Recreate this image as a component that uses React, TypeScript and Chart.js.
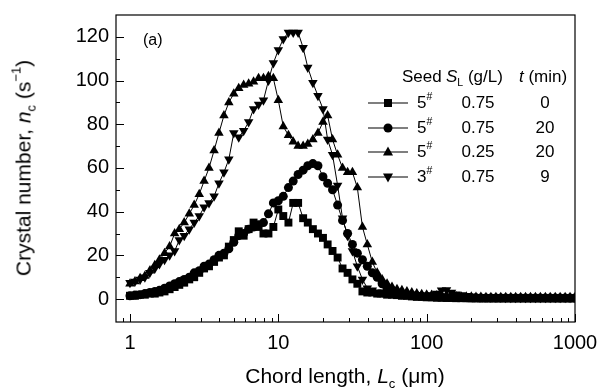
import React, { useEffect, useRef } from "react";
import { Chart, registerables } from "chart.js";

Chart.register(...registerables);

// Chord length channels (µm)
const chordLength = [
  1.00, 1.08, 1.17, 1.26, 1.36, 1.47, 1.58, 1.71, 1.85, 2.00,
  2.15, 2.32, 2.51, 2.71, 2.93, 3.16, 3.41, 3.69, 3.98, 4.30,
  4.64, 5.01, 5.41, 5.84, 6.31, 6.81, 7.36, 7.94, 8.58, 9.26,
  10.0, 10.8, 11.7, 12.6, 13.6, 14.7, 15.8, 17.1, 18.5, 20.0,
  21.5, 23.2, 25.1, 27.1, 29.3, 31.6, 34.1, 36.9, 39.8, 43.0,
  46.4, 50.1, 54.1, 58.4, 63.1, 68.1, 73.6, 79.4, 85.8, 92.6,
  100, 108, 117, 126, 136, 147, 158, 171, 185, 200,
  215, 232, 251, 271, 293, 316, 341, 369, 398, 430,
  464, 501, 541, 584, 631, 681, 736, 794, 858, 926,
  1000,
];

// 5#, 0.75 g/L, 0 min (squares)
const seriesSquare = [
  1.5, 1.5, 2, 2, 2.5, 2.5, 3, 3.5, 4.5, 5.5,
  6.5, 7.5, 9, 10, 12, 14, 15, 17, 19, 20,
  24, 27, 31, 29, 32, 35, 33, 30, 30, 33,
  41, 38, 35, 44, 44, 37, 35, 32, 30, 28,
  25, 22, 19, 14, 12, 9, 7, 3.5, 3, 3,
  2.5, 2.5,
  2, 2, 1.8, 1.5, 1.5, 1.2, 1, 1, 0.8, 0.8,
  0.6, 0.6, 0.5, 0.5, 0.4, 0.4, 0.4, 0.3, 0.3, 0.3,
  0.3, 0.3, 0.3, 0.3, 0.3, 0.3, 0.3, 0.3, 0.3, 0.3,
  0.3, 0.3, 0.3, 0.3, 0.3, 0.3, 0.3, 0.3, 0.3,
];

// 5#, 0.75 g/L, 20 min (circles)
const seriesCircle = [
  1.5, 1.8, 2, 2.5, 3, 3.5, 4, 5, 6, 7,
  8, 9, 10, 12, 13, 15, 16, 18, 20, 21,
  23, 26, 29, 30, 32, 33, 34, 35, 39, 44,
  45, 47, 51, 54, 57, 59, 61, 62, 61, 56,
  53, 50, 43, 36, 30, 25, 21, 18, 15, 12,
  10, 7,
  5, 4, 3, 2.5, 2, 1.8, 1.5, 1.3, 1.2, 1,
  1, 0.9, 0.8, 0.8, 0.7, 0.7, 0.6, 0.6, 0.6, 0.5,
  0.5, 0.5, 0.5, 0.5, 0.5, 0.5, 0.5, 0.5, 0.5, 0.5,
  0.5, 0.5, 0.5, 0.5, 0.5, 0.5, 0.5, 0.5, 0.5,
];

// 5#, 0.25 g/L, 20 min (up triangles)
const seriesTriUp = [
  7, 8, 9.5, 10.5, 13, 15.5, 18, 21, 24, 30,
  32, 35, 39, 43, 48, 54, 60, 68, 76, 84,
  90, 94, 96.5, 98, 98.5, 99.5, 101, 101, 102, 101,
  91, 79, 75, 72, 70, 70, 71, 73, 76, 81,
  84, 73, 66, 60, 58, 58, 51, 33, 25, 17,
  12, 9,
  7, 5.5, 4.5, 4, 3.5, 3, 2.5, 2.2, 2, 1.8,
  1.6, 1.5, 1.4, 1.3, 1.2, 1.1, 1, 1, 0.9, 0.9,
  0.8, 0.8, 0.8, 0.8, 0.8, 0.8, 0.8, 0.8, 0.8, 0.8,
  0.8, 0.8, 0.8, 0.8, 0.8, 0.8, 0.8, 0.8, 0.8,
];

// 3#, 0.75 g/L, 9 min (down triangles)
const seriesTriDown = [
  7.5, 8, 9, 10, 12, 14, 16, 18, 20, 22,
  27, 29, 32, 35, 38, 42, 44, 47, 53, 58,
  64, 76, 74, 77, 81, 87, 89, 91, 100, 108,
  114, 119, 122, 122, 122, 115, 106, 99, 93, 87,
  73, 66, 52, 37, 29, 22, 15, 9, 5, 4,
  3, 3,
  3, 2.5, 2.5, 2.2, 2, 2, 1.8, 1.6, 1.5, 1.8,
  2.5, 4, 4.2, 3, 2.2, 1.8, 1.5, 1.2, 1, 0.9,
  0.8, 0.7, 0.7, 0.7, 0.6, 0.6, 0.6, 0.6, 0.6, 0.6,
  0.6, 0.6, 0.6, 0.6, 0.6, 0.6, 0.6, 0.6, 0.6,
];

const legendSeed = ["5", "5", "5", "3"];
const legendSL = ["0.75", "0.75", "0.25", "0.75"];
const legendT = ["0", "20", "20", "9"];

const yMajorTicks = [0, 20, 40, 60, 80, 100, 120];
const yMinorTicks = [10, 30, 50, 70, 90, 110];
const xMajorTicks = [1, 10, 100, 1000];
const xMinorTicks = [
  0.9, 2, 3, 4, 5, 6, 7, 8, 9, 20, 30, 40, 50, 60, 70, 80, 90,
  200, 300, 400, 500, 600, 700, 800, 900,
];

const FONT = '"Liberation Sans", Arial, Helvetica, sans-serif';

const frameTicks = {
  id: "frameTicks",
  afterDatasetsDraw(chart: any) {
    const { ctx, chartArea: a, scales } = chart;
    const x = scales.x;
    const y = scales.y;
    ctx.save();
    ctx.strokeStyle = "#000";
    ctx.lineWidth = 1.2;
    ctx.strokeRect(a.left, a.top, a.right - a.left, a.bottom - a.top);
    ctx.lineWidth = 1;
    ctx.beginPath();
    const tickY = (v: number, len: number) => {
      const py = Math.round(y.getPixelForValue(v)) + 0.5;
      ctx.moveTo(a.left, py);
      ctx.lineTo(a.left + len, py);
    };
    const tickX = (v: number, len: number) => {
      const px = Math.round(x.getPixelForValue(v)) + 0.5;
      ctx.moveTo(px, a.bottom);
      ctx.lineTo(px, a.bottom - len);
    };
    yMajorTicks.forEach((v) => tickY(v, 8));
    yMinorTicks.forEach((v) => tickY(v, 4));
    xMajorTicks.forEach((v) => tickX(v, 8));
    xMinorTicks.forEach((v) => tickX(v, 4));
    ctx.stroke();
    ctx.restore();
  },
};

function makeData(values: number[]) {
  return chordLength.map((x, i) => ({ x, y: values[i] }));
}

const sub = (t: string) => (
  <span style={{ fontSize: "0.62em", position: "relative", top: "0.4em" }}>{t}</span>
);
const sup = (t: string) => (
  <span style={{ fontSize: "0.62em", position: "relative", top: "-0.75em" }}>{t}</span>
);

function LegendMarker({ kind }: { kind: number }) {
  let shape: any = null;
  if (kind === 0) shape = <rect x={18} y={2} width={8} height={8} fill="#000" />;
  if (kind === 1) shape = <circle cx={22} cy={6} r={4.5} fill="#000" />;
  if (kind === 2) shape = <polygon points="22,0.5 27,9.5 17,9.5" fill="#000" />;
  if (kind === 3) shape = <polygon points="22,11.5 27,2.5 17,2.5" fill="#000" />;
  return (
    <svg width={44} height={12} style={{ display: "block" }}>
      <line x1={2} y1={6} x2={42} y2={6} stroke="#000" strokeWidth={1.2} />
      {shape}
    </svg>
  );
}

export default function App() {
  const ref = useRef<HTMLCanvasElement | null>(null);

  useEffect(() => {
    if (!ref.current) return;
    const common = {
      borderColor: "#000",
      backgroundColor: "#000",
      pointBackgroundColor: "#000",
      pointBorderColor: "#000",
      borderWidth: 1,
      pointBorderWidth: 0,
      tension: 0,
      fill: false,
    };
    const chart = new Chart(ref.current, {
      type: "line",
      data: {
        datasets: [
          { ...common, label: "5# 0.75 0", data: makeData(seriesSquare), pointStyle: "rect", pointRadius: 5.6 },
          { ...common, label: "5# 0.75 20", data: makeData(seriesCircle), pointStyle: "circle", pointRadius: 4.5 },
          { ...common, label: "5# 0.25 20", data: makeData(seriesTriUp), pointStyle: "triangle", pointRadius: 5.5 },
          { ...common, label: "3# 0.75 9", data: makeData(seriesTriDown), pointStyle: "triangle", pointRotation: 180, pointRadius: 5.5 },
        ],
      },
      options: {
        responsive: false,
        animation: false,
        events: [],
        layout: { padding: { left: 0, right: 25, top: 15, bottom: 0 } },
        plugins: { legend: { display: false }, tooltip: { enabled: false }, title: { display: false } },
        scales: {
          x: {
            type: "logarithmic",
            min: 0.805,
            max: 1000,
            grid: { display: false, drawTicks: false },
            border: { display: false },
            afterBuildTicks: (s: any) => {
              s.ticks = xMajorTicks.map((v) => ({ value: v }));
            },
            afterFit: (s: any) => {
              s.height = 67;
              s.paddingLeft = 0;
              s.paddingRight = 0;
            },
            ticks: {
              color: "#000",
              padding: 9,
              maxRotation: 0,
              autoSkip: false,
              font: { family: FONT, size: 20 },
              callback: (v: any) => String(v),
            },
          },
          y: {
            type: "linear",
            min: -10.5,
            max: 130,
            grid: { display: false, drawTicks: false },
            border: { display: false },
            afterBuildTicks: (s: any) => {
              s.ticks = yMajorTicks.map((v) => ({ value: v }));
            },
            afterFit: (s: any) => {
              s.width = 116;
              s.paddingTop = 0;
              s.paddingBottom = 0;
            },
            ticks: {
              color: "#000",
              padding: 7,
              font: { family: FONT, size: 20 },
            },
          },
        },
      },
      plugins: [frameTicks],
    });
    return () => chart.destroy();
  }, []);

  const rowY = [103, 128, 152, 177];

  return (
    <div
      style={{
        position: "absolute",
        left: 0,
        top: 0,
        width: 600,
        height: 389,
        background: "#fff",
        fontFamily: FONT,
        color: "#000",
        overflow: "hidden",
      }}
    >
      <canvas ref={ref} width={600} height={389} style={{ display: "block" }} />
      <div
        style={{
          position: "absolute",
          left: 25,
          top: 168,
          transform: "translate(-50%, -50%) rotate(-90deg)",
          whiteSpace: "nowrap",
          fontSize: 21,
          lineHeight: "24px",
        }}
      >
        Crystal number, <i>n</i>
        {sub("c")} (s{sup("−1")})
      </div>
      <div
        style={{
          position: "absolute",
          left: 345,
          top: 377,
          transform: "translate(-50%, -50%)",
          whiteSpace: "nowrap",
          fontSize: 21,
          lineHeight: "24px",
        }}
      >
        Chord length, <i>L</i>
        {sub("c")} (μm)
      </div>
      <div
        style={{
          position: "absolute",
          left: 143,
          top: 40,
          transform: "translateY(-50%)",
          fontSize: 16,
          lineHeight: "18px",
        }}
      >
        (a)
      </div>
      {/* legend header */}
      <div style={{ position: "absolute", left: 402, top: 77, transform: "translateY(-50%)", fontSize: 17, lineHeight: "20px", whiteSpace: "nowrap" }}>
        Seed
      </div>
      <div style={{ position: "absolute", left: 446, top: 77, transform: "translateY(-50%)", fontSize: 17, lineHeight: "20px", whiteSpace: "nowrap" }}>
        <i>S</i>
        {sub("L")} (g/L)
      </div>
      <div style={{ position: "absolute", left: 519, top: 77, transform: "translateY(-50%)", fontSize: 17, lineHeight: "20px", whiteSpace: "nowrap" }}>
        <i>t</i> (min)
      </div>
      {rowY.map((yy, i) => (
        <React.Fragment key={i}>
          <div style={{ position: "absolute", left: 366, top: yy - 6 }}>
            <LegendMarker kind={i} />
          </div>
          <div style={{ position: "absolute", left: 417, top: yy, transform: "translateY(-50%)", fontSize: 17, lineHeight: "20px", whiteSpace: "nowrap" }}>
            {legendSeed[i]}
            {sup("#")}
          </div>
          <div style={{ position: "absolute", left: 478, top: yy, transform: "translate(-50%, -50%)", fontSize: 17, lineHeight: "20px", whiteSpace: "nowrap" }}>
            {legendSL[i]}
          </div>
          <div style={{ position: "absolute", left: 545, top: yy, transform: "translate(-50%, -50%)", fontSize: 17, lineHeight: "20px", whiteSpace: "nowrap" }}>
            {legendT[i]}
          </div>
        </React.Fragment>
      ))}
    </div>
  );
}
